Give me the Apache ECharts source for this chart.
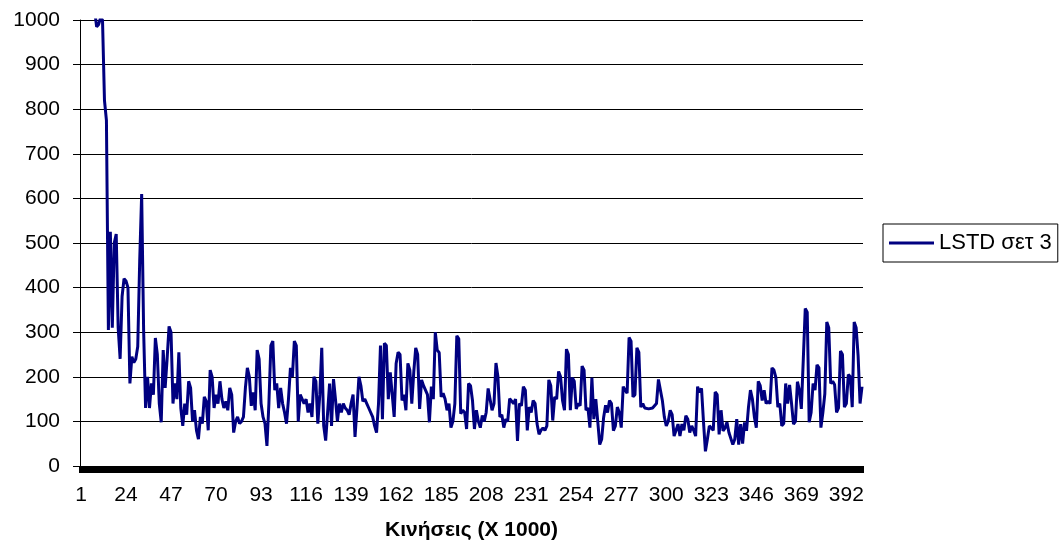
<!DOCTYPE html>
<html>
<head>
<meta charset="utf-8">
<script src="https://cdn.jsdelivr.net/npm/echarts@6/dist/echarts.min.js"></script>
<style>
html,body{margin:0;padding:0;background:#fff;}
#chart{width:1064px;height:553px;}
</style>
</head>
<body>
<div id="chart"></div>
<script>
// ---- data ----
const seriesName = 'LSTD σετ 3';
const xAxisTitle = 'Κινήσεις (X 1000)';
const yTicks = [0, 100, 200, 300, 400, 500, 600, 700, 800, 900, 1000];
const pointCount = 400;
const categories = Array.from({length: pointCount}, (_, i) => String(i + 1));

const lstd001_050 = [1250,1200,1180,1150,1120,1100,1080,1020,985,990,
  1005,1000,820,775,305,525,310,500,520,310,
  240,380,420,415,400,185,245,232,240,268,
  460,610,305,130,200,130,185,160,287,250,
  140,98,260,175,240,313,300,140,185,150];
const lstd051_100 = [255,130,90,140,115,190,175,100,125,80,
  60,110,95,155,145,80,215,200,130,160,
  140,190,150,130,145,125,175,160,75,100,
  110,95,100,110,175,220,200,135,165,125,
  260,240,140,110,95,45,140,270,280,170];
const lstd101_150 = [185,130,175,140,120,95,150,220,200,280,
  270,100,160,150,140,150,120,140,110,200,
  190,95,160,265,90,57,120,185,90,195,
  150,100,140,120,140,130,125,115,140,160,
  65,130,200,180,145,150,140,130,120,110];
const lstd151_200 = [90,75,140,270,105,275,270,150,210,160,
  110,230,255,250,147,160,125,230,215,140,
  210,265,250,128,193,180,178,160,98,178,
  150,300,260,254,155,163,150,125,140,86,
  100,140,292,285,117,125,120,83,185,180];
const lstd201_250 = [147,83,125,100,86,113,100,120,174,174,
  125,140,231,200,110,115,86,105,100,151,
  155,140,150,56,140,135,178,170,80,132,
  120,147,140,94,71,80,85,80,90,193,
  180,102,155,150,212,200,147,125,262,250];
const lstd251_300 = [125,198,190,128,140,135,224,215,125,130,
  86,198,105,150,100,48,60,109,136,120,
  147,140,79,90,132,120,86,178,170,163,
  288,280,155,160,265,255,132,140,130,132,
  128,125,130,135,140,194,190,147,110,90];
const lstd301_350 = [100,125,115,67,80,94,67,94,80,113,
  105,75,90,80,67,178,165,174,100,33,
  60,90,86,80,166,160,71,125,79,85,
  98,75,71,48,60,105,48,94,50,98,
  79,132,170,150,110,86,190,180,147,170];
const lstd351_400 = [140,145,140,220,215,198,132,140,90,95,
  185,140,182,140,94,100,189,170,128,239,
  353,345,98,120,185,170,227,220,86,120,
  162,323,310,185,190,182,120,130,258,250,
  132,140,205,200,132,323,310,247,140,178];

const values = [].concat(lstd001_050, lstd051_100, lstd101_150, lstd151_200,
  lstd201_250, lstd251_300, lstd301_350, lstd351_400);

// ---- chart ----
const FONT = '"Liberation Sans", Arial, sans-serif';
const chart = echarts.init(document.getElementById('chart'), null, {renderer: 'canvas'});
chart.setOption({
  animation: false,
  backgroundColor: '#ffffff',
  grid: {left: 80, right: 201, top: 20, bottom: 87, containLabel: false},
  legend: {
    show: true,
    left: 883, top: 224,
    orient: 'vertical',
    data: [{name: seriesName, icon: 'rect'}],
    itemWidth: 45, itemHeight: 3,
    itemGap: 0,
    padding: [8, 6, 8, 6],
    borderColor: '#000', borderWidth: 1,
    textStyle: {fontFamily: FONT, fontSize: 22, color: '#000'}
  },
  xAxis: {
    type: 'category',
    data: categories,
    boundaryGap: true,
    name: xAxisTitle,
    nameLocation: 'middle',
    nameGap: 54,
    nameTextStyle: {fontFamily: FONT, fontSize: 21, fontWeight: 'bold', color: '#000'},
    axisLine: {show: true, lineStyle: {color: '#000', width: 1}},
    axisTick: {show: true, interval: 0, length: 7, inside: false, lineStyle: {color: '#000', width: 2}},
    axisLabel: {interval: 22, margin: 19, fontFamily: FONT, fontSize: 21, color: '#000'},
    splitLine: {show: false}
  },
  yAxis: {
    type: 'value',
    min: yTicks[0], max: yTicks[yTicks.length - 1], interval: 100,
    axisLine: {show: true, lineStyle: {color: '#000', width: 1}},
    axisTick: {show: true, length: 7, lineStyle: {color: '#000', width: 1}},
    axisLabel: {margin: 20, fontFamily: FONT, fontSize: 21, color: '#000',
      formatter: function (v) { return String(v); }},
    splitLine: {show: true, lineStyle: {color: '#000', width: 1}}
  },
  series: [{
    name: seriesName,
    type: 'line',
    data: values,
    showSymbol: false,
    symbol: 'none',
    clip: true,
    lineStyle: {color: '#000080', width: 3},
    itemStyle: {color: '#000080'}
  }]
});
</script>
</body>
</html>
